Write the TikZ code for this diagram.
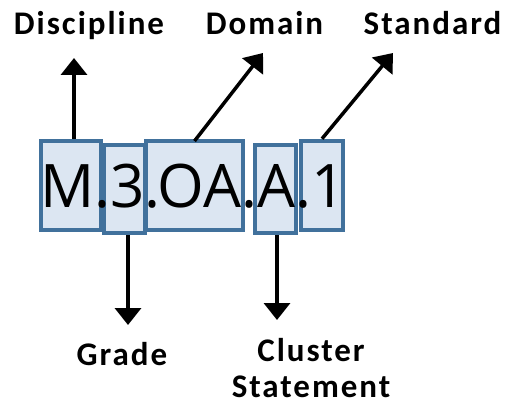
\documentclass[tikz,border=0pt]{standalone}
\usepackage{fontspec}
\setmainfont{Open Sans}
\newfontfamily\labelfont[LetterSpace=6]{Carlito}
\usetikzlibrary{arrows.meta}
\definecolor{boxfill}{HTML}{DCE6F2}
\definecolor{boxline}{HTML}{41719C}
\tikzset{
  seg/.style={draw=boxline, fill=boxfill, line width=4.5pt, inner sep=0pt, minimum height=89pt},
  arr/.style={line width=3.5pt, -{Triangle[width=26pt,length=17pt]}},
  lbl/.style={font=\labelfont\bfseries\fontsize{33}{36}\selectfont, inner sep=0pt, align=center},
}
\begin{document}
\begin{tikzpicture}[x=1pt,y=-1pt]
\useasboundingbox (0,0) rectangle (506,409);
% boxes
\node[seg, minimum width=60pt] (bM) at (71,185.5) {};
\node[seg, minimum width=41pt, minimum height=88pt] (b3) at (124.5,189) {};
\node[seg, minimum width=97pt] (bOA) at (194.5,185.5) {};
\node[seg, minimum width=41pt, minimum height=88pt] (bA) at (275.5,189) {};
\node[seg, minimum width=42pt] (b1) at (322,185.5) {};
% code text
\node[anchor=base west, inner sep=0pt, font=\fontsize{60}{60}\selectfont] (code) at (40,207) {M.3.OA.A.1};
% labels
\node[lbl, anchor=base] (disc) at (89,35) {Discipline};
\node[lbl, anchor=base] (dom) at (264.5,35) {Domain};
\node[lbl, anchor=base] (std) at (432.5,35) {Standard};
\node[lbl, anchor=base] (grade) at (122,365) {Grade};
\node[lbl, anchor=north] (clus) at (311,338) {Cluster\\Statement};
% arrow tips
\coordinate (tDisc) at (74,58);
\coordinate (tDom) at (263,53);
\coordinate (tStd) at (393,53);
\coordinate (tGrade) at (128,325);
\coordinate (tClus) at (277,320);
% arrows
\draw[arr] (tDisc |- bM.north) -- (tDisc);
\draw[arr] (203,141 -| bOA.north) -- (tDom);
\draw[arr] (b1.north) -- (tStd);
\draw[arr] (tGrade |- b3.south) -- (tGrade);
\draw[arr] (tClus |- bA.south) -- (tClus);
\end{tikzpicture}
\end{document}
